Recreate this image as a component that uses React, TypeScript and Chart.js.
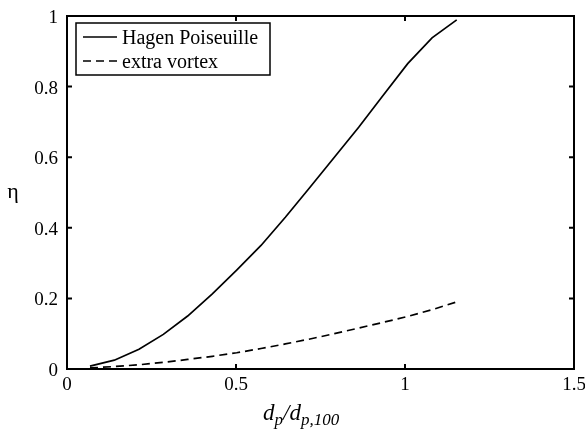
import React, { useEffect, useRef } from "react";
import { Chart, registerables } from "chart.js";

Chart.register(...registerables);

const xValues = [0.068, 0.14, 0.213, 0.285, 0.357, 0.43, 0.502, 0.574, 0.646, 0.719, 0.791, 0.863, 0.935, 1.008, 1.08, 1.153];
const hagenPoiseuille = [0.008, 0.025, 0.056, 0.098, 0.15, 0.213, 0.28, 0.35, 0.43, 0.515, 0.6, 0.685, 0.775, 0.865, 0.938, 0.989];
const extraVortex = [0.003, 0.007, 0.012, 0.019, 0.027, 0.036, 0.046, 0.058, 0.071, 0.085, 0.1, 0.116, 0.132, 0.149, 0.168, 0.19];
const seriesLabels = ["Hagen Poiseuille", "extra vortex"];
const xTicks = [0, 0.5, 1, 1.5];
const yTicks = [0, 0.2, 0.4, 0.6, 0.8, 1];

const FONT = "'Liberation Serif', 'DejaVu Serif', serif";

const fmt = (v: number) => String(Number(Number(v).toFixed(2)));

const boxPlugin = {
  id: "matlabBox",
  afterDraw(chart: any) {
    const { ctx, chartArea } = chart;
    const { left, top, right, bottom } = chartArea;
    const xs = chart.scales.x;
    const ys = chart.scales.y;
    ctx.save();
    ctx.strokeStyle = "#000";
    ctx.lineWidth = 2;
    ctx.strokeRect(left, top, right - left, bottom - top);
    // inward ticks on all four sides
    const tl = 5;
    ctx.beginPath();
    xTicks.forEach((v) => {
      const px = xs.getPixelForValue(v);
      ctx.moveTo(px, bottom);
      ctx.lineTo(px, bottom - tl);
      ctx.moveTo(px, top);
      ctx.lineTo(px, top + tl);
    });
    yTicks.forEach((v) => {
      const py = ys.getPixelForValue(v);
      ctx.moveTo(left, py);
      ctx.lineTo(left + tl, py);
      ctx.moveTo(right, py);
      ctx.lineTo(right - tl, py);
    });
    ctx.stroke();

    // legend
    const lx = 76, ly = 23, lw = 194, lh = 52;
    ctx.fillStyle = "#fff";
    ctx.fillRect(lx, ly, lw, lh);
    ctx.lineWidth = 1.5;
    ctx.strokeRect(lx, ly, lw, lh);
    ctx.font = `20px ${FONT}`;
    ctx.textBaseline = "middle";
    ctx.textAlign = "left";
    ctx.fillStyle = "#000";
    chart.data.datasets.forEach((ds: any, i: number) => {
      const rowY = ly + 14 + i * 24;
      ctx.beginPath();
      ctx.lineWidth = 1.6;
      ctx.setLineDash(ds.borderDash || []);
      ctx.moveTo(83, rowY);
      ctx.lineTo(117, rowY);
      ctx.stroke();
      ctx.setLineDash([]);
      ctx.fillText(ds.label, 122, rowY + 2);
    });

    // y label (eta), upright
    ctx.font = `22px ${FONT}`;
    ctx.textAlign = "center";
    ctx.textBaseline = "middle";
    ctx.fillText("η", 13, (top + bottom) / 2);

    // x label d_p / d_{p,100}
    const big = `italic 23px ${FONT}`;
    const small = `italic 17px ${FONT}`;
    const parts: [string, string, number][] = [
      ["d", big, 0],
      ["p", small, 5],
      ["/", big, 0],
      ["d", big, 0],
      ["p,100", small, 5],
    ];
    let cx = 263;
    const base = 420;
    ctx.textAlign = "left";
    ctx.textBaseline = "alphabetic";
    parts.forEach(([t, f, off]) => {
      ctx.font = f;
      ctx.fillText(t, cx, base + off);
      cx += ctx.measureText(t).width;
    });
    ctx.restore();
  },
};

export default function App() {
  const ref = useRef<HTMLCanvasElement | null>(null);
  useEffect(() => {
    document.body.style.margin = "0";
    if (!ref.current) return;
    const chart = new Chart(ref.current, {
      type: "line",
      data: {
        datasets: [
          {
            label: seriesLabels[0],
            data: xValues.map((x, i) => ({ x, y: hagenPoiseuille[i] })),
            borderColor: "#000",
            borderWidth: 1.7,
            pointRadius: 0,
            tension: 0,
            fill: false,
          },
          {
            label: seriesLabels[1],
            data: xValues.map((x, i) => ({ x, y: extraVortex[i] })),
            borderColor: "#000",
            borderWidth: 1.7,
            borderDash: [8, 5],
            pointRadius: 0,
            tension: 0,
            fill: false,
          },
        ],
      },
      options: {
        responsive: false,
        animation: false,
        layout: { padding: { top: 16, right: 11, left: 0, bottom: 0 } },
        plugins: { legend: { display: false }, tooltip: { enabled: false } },
        scales: {
          x: {
            type: "linear",
            min: 0,
            max: 1.5,
            afterFit: (s: any) => {
              s.height = 60;
              s.paddingLeft = 0;
              s.paddingRight = 0;
            },
            afterBuildTicks: (s: any) => {
              s.ticks = xTicks.map((v) => ({ value: v }));
            },
            grid: { display: false, drawTicks: false },
            border: { display: false },
            ticks: {
              padding: 5,
              color: "#000",
              font: { family: FONT, size: 19 },
              callback: (v: any) => fmt(v),
              maxRotation: 0,
            },
          },
          y: {
            type: "linear",
            min: 0,
            max: 1,
            afterFit: (s: any) => {
              s.width = 67;
              s.paddingTop = 0;
              s.paddingBottom = 0;
            },
            afterBuildTicks: (s: any) => {
              s.ticks = yTicks.map((v) => ({ value: v }));
            },
            grid: { display: false, drawTicks: false },
            border: { display: false },
            ticks: {
              padding: 9,
              labelOffset: 2,
              color: "#000",
              font: { family: FONT, size: 19 },
              callback: (v: any) => fmt(v),
            },
          },
        },
      },
      plugins: [boxPlugin],
    } as any);
    return () => chart.destroy();
  }, []);
  return (
    <div style={{ width: 585, height: 429, background: "#fff" }}>
      <canvas ref={ref} width={585} height={429} style={{ display: "block" }} />
    </div>
  );
}
